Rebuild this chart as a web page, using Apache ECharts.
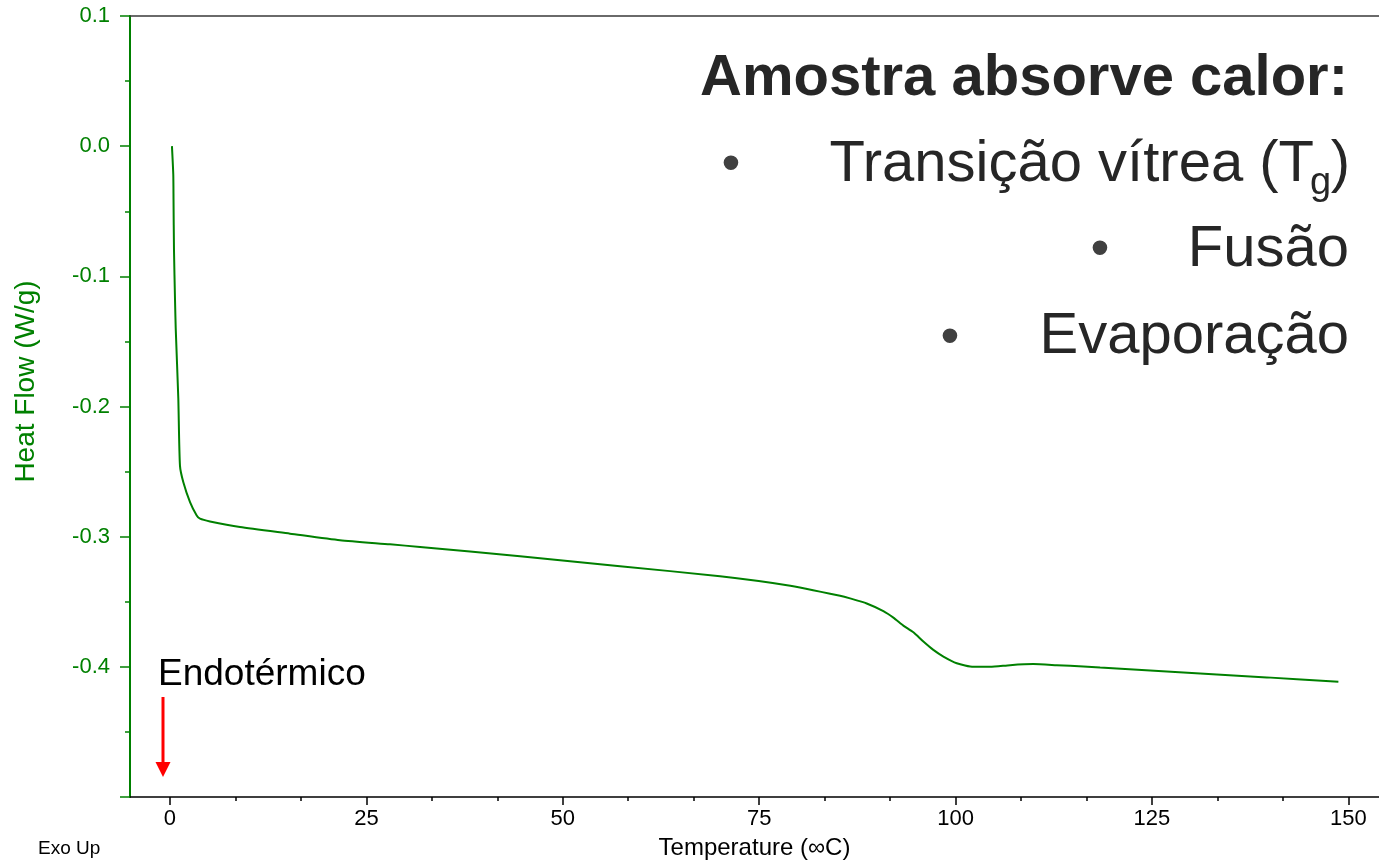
<!DOCTYPE html>
<html>
<head>
<meta charset="utf-8">
<script src="https://cdn.jsdelivr.net/npm/echarts@6/dist/echarts.min.js"></script>
<style>
  html, body { margin: 0; padding: 0; background: #ffffff; }
  #chart { width: 1379px; height: 865px; }
</style>
</head>
<body>
<div id="chart"></div>
<script>
// ---- Data ----
const temperature = [
  0.25, 0.42, 0.45, 0.51, 0.64, 0.73, 1.06, 1.27, 1.70, 2.55, 3.40, 3.82, 5.09,
  8.91, 15.28, 21.64, 28.01, 31.83, 44.56, 57.29, 70.02, 78.55, 85.30, 86.57,
  88.69, 90.81, 92.08, 93.35, 94.63, 95.90, 97.17, 98.45, 100.15, 102.27,
  104.39, 106.94, 109.90, 112.88, 116.27, 118.40, 131.13, 139.62, 148.73
];
const heatFlow = [
  0.000, -0.022, -0.041, -0.080, -0.118, -0.140, -0.194, -0.2454, -0.2582,
  -0.2734, -0.2837, -0.2862, -0.2883, -0.2926, -0.2977, -0.3028, -0.3059,
  -0.3079, -0.3151, -0.3227, -0.3304, -0.3373, -0.3454, -0.3474, -0.3513,
  -0.3572, -0.3622, -0.3683, -0.3735, -0.3806, -0.3870, -0.3921, -0.3972,
  -0.4000, -0.4000, -0.3987, -0.3979, -0.3987, -0.3997, -0.4005, -0.4051,
  -0.4081, -0.4115
];
const xTickValues = [0, 25, 50, 75, 100, 125, 150];
const xMinorTickValues = [8.333, 16.667, 33.333, 41.667, 58.333, 66.667, 83.333,
  91.667, 108.333, 116.667, 133.333, 141.667];
const yTickLabels = { '0.1': '0.1', '0': '0.0', '-0.1': '-0.1', '-0.2': '-0.2',
  '-0.3': '-0.3', '-0.4': '-0.4', '-0.5': '' };

const titleText = 'Amostra absorve calor:';
const bulletItems = ['Transição vítrea (T', 'Fusão', 'Evaporação'];
const subscriptText = 'g';
const endoText = 'Endotérmico';
const exoText = 'Exo Up';
const xName = 'Temperature (∞C)';
const yName = 'Heat Flow (W/g)';

// ---- Chart ----
const FONT = "'Liberation Sans', Arial, sans-serif";
const GREEN = '#008000';
const series = temperature.map((t, i) => [t, heatFlow[i]]);

const chart = echarts.init(document.getElementById('chart'), null, { renderer: 'canvas' });

const option = {
  backgroundColor: '#ffffff',
  animation: false,
  textStyle: { fontFamily: FONT },
  grid: { left: 130, right: 0, top: 16, bottom: 65, containLabel: false },
  xAxis: [
    {
      type: 'value', min: -5.09, max: 153.9, position: 'bottom',
      name: xName, nameLocation: 'middle', nameGap: 39,
      nameTextStyle: { color: '#000', fontSize: 24, fontFamily: FONT },
      axisLine: { show: true, onZero: false, lineStyle: { color: '#000', width: 1.5 } },
      axisTick: { show: true, inside: false, length: 8, customValues: xTickValues,
        lineStyle: { color: '#000', width: 1.5 } },
      axisLabel: { show: true, customValues: xTickValues, margin: 11, color: '#000',
        fontSize: 22, fontFamily: FONT },
      splitLine: { show: false }
    },
    {
      type: 'value', min: -5.09, max: 153.9, position: 'bottom',
      axisLine: { show: false, onZero: false },
      axisTick: { show: true, length: 4, customValues: xMinorTickValues,
        lineStyle: { color: '#000', width: 1.5 } },
      axisLabel: { show: false },
      splitLine: { show: false }
    },
    {
      type: 'value', min: -5.09, max: 153.9, position: 'top',
      axisLine: { show: true, onZero: false, lineStyle: { color: '#3a3a3a', width: 1.5 } },
      axisTick: { show: false },
      axisLabel: { show: false },
      splitLine: { show: false }
    }
  ],
  yAxis: {
    type: 'value', min: -0.5, max: 0.1, interval: 0.1,
    name: yName, nameLocation: 'middle', nameGap: 90,
    nameTextStyle: { color: GREEN, fontSize: 28, fontFamily: FONT, padding: [0, 0, 0, 50] },
    axisLine: { show: true, onZero: false, lineStyle: { color: GREEN, width: 2 } },
    axisTick: { show: true, inside: false, length: 10, lineStyle: { color: GREEN, width: 1.5 } },
    minorTick: { show: true, splitNumber: 2, length: 5, lineStyle: { color: GREEN, width: 1.5 } },
    axisLabel: {
      color: GREEN, fontSize: 22, margin: 20, fontFamily: FONT,
      formatter: v => {
        const k = String(Math.round(v * 10) / 10);
        return yTickLabels[k] !== undefined ? yTickLabels[k] : v.toFixed(1);
      }
    },
    splitLine: { show: false },
    minorSplitLine: { show: false }
  },
  series: [{
    type: 'line', xAxisIndex: 0, yAxisIndex: 0, data: series,
    showSymbol: false, smooth: 0.2,
    lineStyle: { color: GREEN, width: 2 }
  }],
  graphic: [
    { type: 'text', right: 31, top: 50,
      style: { text: titleText, font: "bold 58px 'Liberation Sans', Arial, sans-serif", fill: '#262626' } },
    { type: 'text', x: 1314, y: 165,
      style: { text: bulletItems[0], font: "58px 'Liberation Sans', Arial, sans-serif", fill: '#262626',
        textAlign: 'right', textVerticalAlign: 'middle' } },
    { type: 'text', x: 1310, y: 184,
      style: { text: subscriptText, font: "38px 'Liberation Sans', Arial, sans-serif", fill: '#262626',
        textAlign: 'left', textVerticalAlign: 'middle' } },
    { type: 'text', x: 1350, y: 165,
      style: { text: ')', font: "58px 'Liberation Sans', Arial, sans-serif", fill: '#262626',
        textAlign: 'right', textVerticalAlign: 'middle' } },
    { type: 'text', x: 1349, y: 250,
      style: { text: bulletItems[1], font: "58px 'Liberation Sans', Arial, sans-serif", fill: '#262626',
        textAlign: 'right', textVerticalAlign: 'middle' } },
    { type: 'text', x: 1349, y: 337,
      style: { text: bulletItems[2], font: "58px 'Liberation Sans', Arial, sans-serif", fill: '#262626',
        textAlign: 'right', textVerticalAlign: 'middle' } },
    { type: 'text', x: 731, y: 166,
      style: { text: '•', font: "54px 'Liberation Sans', Arial, sans-serif", fill: '#404040',
        textAlign: 'center', textVerticalAlign: 'middle' } },
    { type: 'text', x: 1100, y: 251,
      style: { text: '•', font: "54px 'Liberation Sans', Arial, sans-serif", fill: '#404040',
        textAlign: 'center', textVerticalAlign: 'middle' } },
    { type: 'text', x: 950, y: 339,
      style: { text: '•', font: "54px 'Liberation Sans', Arial, sans-serif", fill: '#404040',
        textAlign: 'center', textVerticalAlign: 'middle' } },
    { type: 'text', x: 158, y: 675,
      style: { text: endoText, font: "37px 'Liberation Sans', Arial, sans-serif", fill: '#000',
        textAlign: 'left', textVerticalAlign: 'middle' } },
    { type: 'line', shape: { x1: 163, y1: 697, x2: 163, y2: 766 },
      style: { stroke: '#ff0000', lineWidth: 3 } },
    { type: 'polygon', shape: { points: [[155.5, 762], [170.5, 762], [163, 777]] },
      style: { fill: '#ff0000' } },
    { type: 'text', x: 38, y: 849,
      style: { text: exoText, font: "19px 'Liberation Sans', Arial, sans-serif", fill: '#000',
        textAlign: 'left', textVerticalAlign: 'middle' } }
  ]
};
chart.setOption(option);
</script>
</body>
</html>
